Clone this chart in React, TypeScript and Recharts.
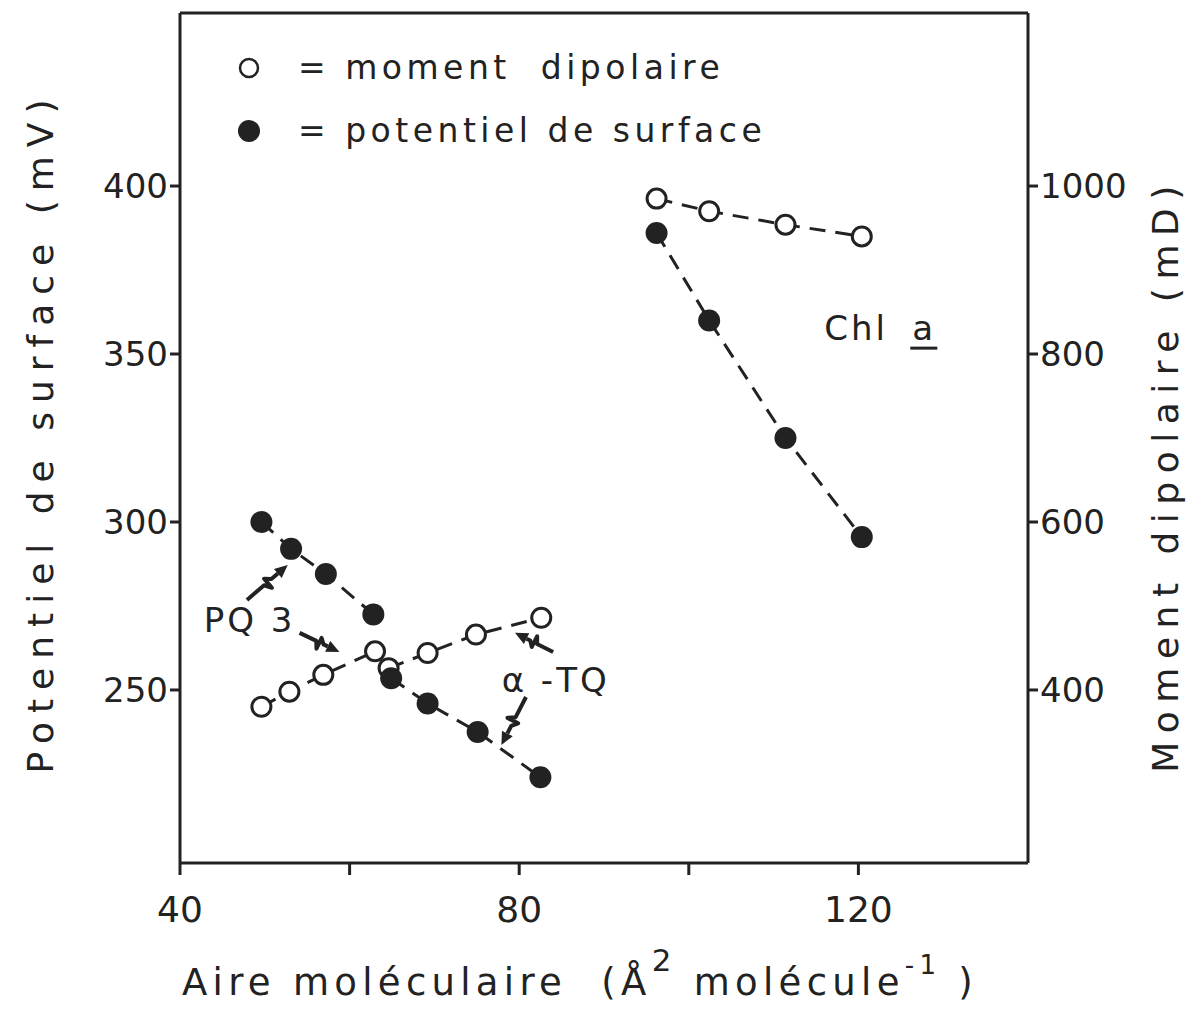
import { ScatterChart, Scatter, XAxis, YAxis, ReferenceLine, ReferenceDot } from "recharts"

const ink = "#222"
const font = "'DejaVu Sans', sans-serif"

// aire moléculaire (Å2 / molécule) and readings
const chlArea = [96.2, 102.4, 111.4, 120.4]
const chlPotential = [386, 360, 325, 295.5]
const chlDipole = [985, 970, 954, 940]

const pq3Area = [49.6, 53.1, 57.2, 62.8]
const pq3Potential = [300, 292, 284.5, 272.5]
const pq3DipoleArea = [49.6, 52.9, 56.9, 63.0]
const pq3Dipole = [380, 398, 418, 446]

const tqArea = [64.9, 69.2, 75.1, 82.5]
const tqPotential = [253.5, 246, 237.5, 224]
const tqDipoleArea = [64.6, 69.2, 74.9, 82.6]
const tqDipole = [426, 444, 466, 486]

const xTicks = [40, 60, 80, 100, 120]
const xLabelled = [40, 80, 120]
const leftTicks = [250, 300, 350, 400]
const rightTicks = [400, 600, 800, 1000]

const toPoints = (xs: number[], ys: number[]) => xs.map((x, i) => ({ x, y: ys[i] }))

const dash = { stroke: ink, strokeWidth: 3, strokeDasharray: "16 10" }

const OpenDot = (p: any) => <circle cx={p.cx} cy={p.cy} r={9.5} fill="#fff" stroke={ink} strokeWidth={3} />
const FullDot = (p: any) => <circle cx={p.cx} cy={p.cy} r={11} fill={ink} />

// squiggly arrow drawn between the two end points of a reference segment
const Squiggle = (p: any) => {
  const { x1, y1, x2, y2 } = p
  const dx = x2 - x1
  const dy = y2 - y1
  const len = Math.sqrt(dx * dx + dy * dy)
  const ux = dx / len
  const uy = dy / len
  const nx = -uy
  const ny = ux
  const at = (t: number, o: number) => `${x1 + dx * t + nx * o},${y1 + dy * t + ny * o}`
  const bx = x2 - ux * 13
  const by = y2 - uy * 13
  return (
    <g>
      <path
        d={`M${at(0, 0)} L${at(0.42, 0)} L${at(0.5, 7)} L${at(0.5, -5)} L${at(0.6, 0)} L${bx},${by}`}
        fill="none"
        stroke={ink}
        strokeWidth={4}
        strokeLinejoin="round"
      />
      <path d={`M${x2},${y2} L${bx + nx * 6},${by + ny * 6} L${bx - nx * 6},${by - ny * 6} Z`} fill={ink} />
    </g>
  )
}

const note = (text: string) => (p: any) => (
  <text x={p.cx} y={p.cy} textAnchor="middle" dominantBaseline="central" fontFamily={font} fontSize={34} letterSpacing={3} fill={ink}>
    {text}
  </text>
)

const chlNote = (p: any) => (
  <g fontFamily={font} fontSize={34} fill={ink}>
    <text x={p.cx - 57} y={p.cy} dominantBaseline="central" letterSpacing={3}>Chl</text>
    <text x={p.cx + 31} y={p.cy} dominantBaseline="central">a</text>
    <line x1={p.cx + 29} x2={p.cx + 56} y1={p.cy + 20} y2={p.cy + 20} stroke={ink} strokeWidth={3} />
  </g>
)

const LegendBox = () => (
  <div style={{ position: "absolute", left: 234, top: 36, fontFamily: font, fontSize: 33, color: ink, letterSpacing: 4.5, lineHeight: "63px" }}>
    <div style={{ display: "flex", alignItems: "center" }}>
      <svg width={30} height={30}><circle cx={15} cy={15} r={9} fill="#fff" stroke={ink} strokeWidth={2.5} /></svg>
      <span style={{ marginLeft: 34 }}>= moment&nbsp; dipolaire</span>
    </div>
    <div style={{ display: "flex", alignItems: "center" }}>
      <svg width={30} height={30}><circle cx={15} cy={15} r={11} fill={ink} /></svg>
      <span style={{ marginLeft: 34 }}>= potentiel de surface</span>
    </div>
  </div>
)

const tickStyle = { fontFamily: font, fontSize: 34, fill: ink }

export default function App() {
  return (
    <div style={{ position: "absolute", left: 0, top: 0, width: 1193, height: 1014, background: "#fff" }}>
      <ScatterChart width={1193} height={1014} margin={{ top: 13, right: 0, bottom: 0, left: 0 }}>
        <XAxis
          type="number"
          dataKey="x"
          domain={[40, 140]}
          ticks={xTicks}
          tickFormatter={(v: number) => (xLabelled.includes(v) ? String(v) : "")}
          height={151}
          axisLine={{ stroke: ink, strokeWidth: 3 }}
          tickLine={{ stroke: ink, strokeWidth: 3 }}
          tickSize={12}
          tickMargin={21}
          tick={{ ...tickStyle, fontSize: 36 }}
          label={{
            content: () => (
              <text x={580} y={995} textAnchor="middle" fontFamily={font} fontSize={37} letterSpacing={5.3} fill={ink}>
                Aire moléculaire&nbsp; (Å
                <tspan dy={-24} fontSize={31}>2</tspan>
                <tspan dy={24}> molécule</tspan>
                <tspan dy={-21} fontSize={26}>-1</tspan>
                <tspan dy={21}> )</tspan>
              </text>
            ),
          }}
        />
        <YAxis
          yAxisId="left"
          type="number"
          dataKey="y"
          domain={[198.5, 451.5]}
          ticks={leftTicks}
          width={180}
          axisLine={{ stroke: ink, strokeWidth: 3 }}
          tickLine={{ stroke: ink, strokeWidth: 3 }}
          tickSize={10}
          tickMargin={2}
          tick={tickStyle}
          label={{
            content: () => (
              <text x={40} y={432} transform="rotate(-90 40 432)" textAnchor="middle" dominantBaseline="central" fontFamily={font} fontSize={36} letterSpacing={9} fill={ink}>
                Potentiel de surface (mV)
              </text>
            ),
          }}
        />
        <YAxis
          yAxisId="right"
          orientation="right"
          type="number"
          dataKey="y"
          domain={[194, 1206]}
          ticks={rightTicks}
          width={165}
          axisLine={{ stroke: ink, strokeWidth: 3 }}
          tickLine={{ stroke: ink, strokeWidth: 3 }}
          tickSize={10}
          tickMargin={2}
          tick={tickStyle}
          label={{
            content: () => (
              <text x={1165} y={475} transform="rotate(-90 1165 475)" textAnchor="middle" dominantBaseline="central" fontFamily={font} fontSize={36} letterSpacing={8.5} fill={ink}>
                Moment dipolaire (mD)
              </text>
            ),
          }}
        />
        <ReferenceLine yAxisId="left" y={451.5} stroke={ink} strokeWidth={3} />

        <Scatter yAxisId="right" data={toPoints(chlArea, chlDipole)} line={dash} shape={OpenDot} isAnimationActive={false} />
        <Scatter yAxisId="left" data={toPoints(chlArea, chlPotential)} line={dash} shape={FullDot} isAnimationActive={false} />
        <Scatter yAxisId="right" data={toPoints(pq3DipoleArea, pq3Dipole)} line={dash} shape={OpenDot} isAnimationActive={false} />
        <Scatter yAxisId="right" data={toPoints(tqDipoleArea, tqDipole)} line={dash} shape={OpenDot} isAnimationActive={false} />
        <Scatter yAxisId="left" data={toPoints(pq3Area, pq3Potential)} line={dash} shape={FullDot} isAnimationActive={false} />
        <Scatter yAxisId="left" data={toPoints(tqArea, tqPotential)} line={dash} shape={FullDot} isAnimationActive={false} />

        {/* annotations */}
        <ReferenceLine yAxisId="left" segment={[{ x: 47.9, y: 276.8 }, { x: 52.7, y: 287.2 }]} shape={Squiggle} />
        <ReferenceLine yAxisId="left" segment={[{ x: 54.1, y: 267 }, { x: 58.8, y: 261.3 }]} shape={Squiggle} />
        <ReferenceLine yAxisId="left" segment={[{ x: 84.0, y: 261.3 }, { x: 79.5, y: 267.0 }]} shape={Squiggle} />
        <ReferenceLine yAxisId="left" segment={[{ x: 80.8, y: 247.9 }, { x: 77.9, y: 233.6 }]} shape={Squiggle} />
        <ReferenceDot yAxisId="left" x={48.2} y={270.8} shape={note("PQ 3")} />
        <ReferenceDot yAxisId="left" x={84.3} y={253} shape={note("α -TQ")} />
        <ReferenceDot yAxisId="left" x={122.7} y={357.7} shape={chlNote} />
      </ScatterChart>
      <LegendBox />
    </div>
  )
}
